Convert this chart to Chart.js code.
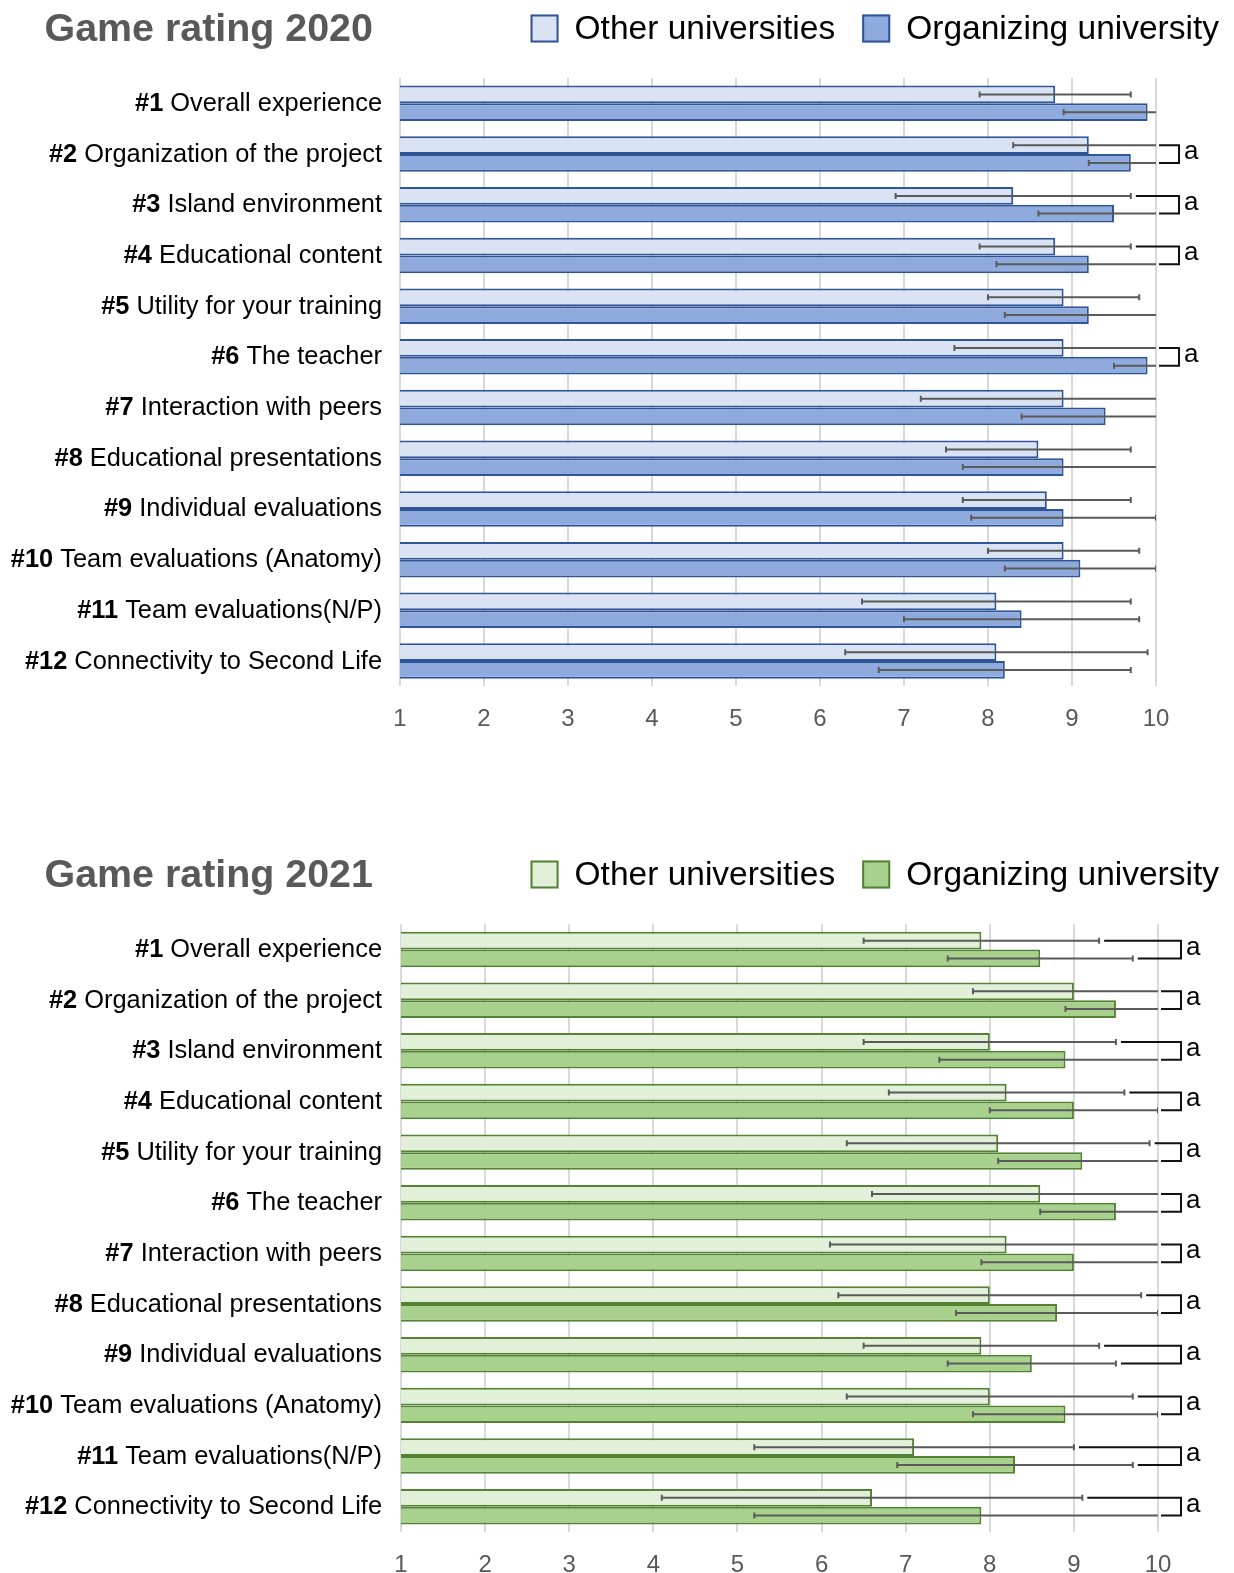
<!DOCTYPE html>
<html>
<head>
<meta charset="utf-8">
<script src="https://cdn.jsdelivr.net/npm/chart.js@4.4.1/dist/chart.umd.min.js"></script>
<style>
  html, body { margin: 0; padding: 0; background: #ffffff; width: 1234px; height: 1573px; overflow: hidden; }
  .wrap { position: absolute; left: 0; width: 1234px; }
</style>
</head>
<body>
<div class="wrap" style="top:0px;height:845px"><canvas id="c2020" width="1234" height="845"></canvas></div>
<div class="wrap" style="top:846px;height:752px"><canvas id="c2021" width="1234" height="752"></canvas></div>
<script>
// ---------------- DATA ----------------
const categoryNumbers = ['#1', '#2', '#3', '#4', '#5', '#6', '#7', '#8', '#9', '#10', '#11', '#12'];
const categoryNames = [
  'Overall experience', 'Organization of the project', 'Island environment', 'Educational content',
  'Utility for your training', 'The teacher', 'Interaction with peers', 'Educational presentations',
  'Individual evaluations', 'Team evaluations (Anatomy)', 'Team evaluations(N/P)', 'Connectivity to Second Life'
];
const xTickValues = [1, 2, 3, 4, 5, 6, 7, 8, 9, 10];
const seriesNames = ['Other universities', 'Organizing university'];
const chartTitles = ['Game rating 2020', 'Game rating 2021'];

const other2020   = [8.8, 9.2, 8.3, 8.8, 8.9, 8.9, 8.9, 8.6, 8.7, 8.9, 8.1, 8.1];
const otherSd2020 = [0.9, 0.9, 1.4, 0.9, 0.9, 1.3, 1.7, 1.1, 1.0, 0.9, 1.6, 1.8];
const org2020     = [9.9, 9.7, 9.5, 9.2, 9.2, 9.9, 9.4, 8.9, 8.9, 9.1, 8.4, 8.2];
const orgSd2020   = [1.0, 0.5, 0.9, 1.1, 1.0, 0.4, 1.0, 1.2, 1.1, 0.9, 1.4, 1.5];
const sig2020     = ['', 'a', 'a', 'a', '', 'a', '', '', '', '', '', ''];

const other2021   = [7.9, 9.0, 8.0, 8.2, 8.1, 8.6, 8.2, 8.0, 7.9, 8.0, 7.1, 6.6];
const otherSd2021 = [1.4, 1.2, 1.5, 1.4, 1.8, 2.0, 2.1, 1.8, 1.4, 1.7, 1.9, 2.5];
const org2021     = [8.6, 9.5, 8.9, 9.0, 9.1, 9.5, 9.0, 8.8, 8.5, 8.9, 8.3, 7.9];
const orgSd2021   = [1.1, 0.6, 1.5, 1.0, 1.0, 0.9, 1.1, 1.2, 1.0, 1.1, 1.4, 2.7];
const sig2021     = ['a', 'a', 'a', 'a', 'a', 'a', 'a', 'a', 'a', 'a', 'a', 'a'];

// ---------------- DRAWING ----------------
const FONT = '"Liberation Sans", Arial, Helvetica, sans-serif';

const decor = {
  id: 'decor',
  afterDatasetsDraw(chart, args, o) {
    const ctx = chart.ctx, a = chart.chartArea, xs = chart.scales.x;
    const metas = [chart.getDatasetMeta(0), chart.getDatasetMeta(1)];
    // error bars (clipped to the plot area)
    ctx.save();
    ctx.beginPath();
    ctx.rect(a.left, 0, a.right - a.left, chart.height);
    ctx.clip();
    ctx.strokeStyle = '#5A5A5A';
    ctx.lineWidth = 2;
    chart.data.datasets.forEach((ds, d) => {
      const sd = o.sd[d];
      metas[d].data.forEach((bar, i) => {
        const v = ds.data[i], y = bar.y;
        const x0 = xs.getPixelForValue(v - sd[i]);
        const x1 = xs.getPixelForValue(v + sd[i]);
        ctx.beginPath();
        ctx.moveTo(x0, y); ctx.lineTo(x1, y);
        ctx.moveTo(x0, y - 3); ctx.lineTo(x0, y + 3);
        ctx.moveTo(x1, y - 3); ctx.lineTo(x1, y + 3);
        ctx.stroke();
      });
    });
    ctx.restore();

    // significance brackets
    ctx.save();
    ctx.strokeStyle = '#111111';
    ctx.lineWidth = 2;
    ctx.fillStyle = '#000000';
    ctx.font = '26px ' + FONT;
    ctx.textAlign = 'left';
    ctx.textBaseline = 'alphabetic';
    const vx = a.right + 23;
    o.sig.forEach((s, i) => {
      if (!s) return;
      const ends = [0, 1].map(d => {
        const hi = chart.data.datasets[d].data[i] + o.sd[d][i];
        return hi >= 9.999 ? a.right + 3 : xs.getPixelForValue(hi) + 5;
      });
      const y0 = metas[0].data[i].y, y1 = metas[1].data[i].y;
      ctx.beginPath();
      ctx.moveTo(ends[0], y0); ctx.lineTo(vx, y0); ctx.lineTo(vx, y1); ctx.lineTo(ends[1], y1);
      ctx.stroke();
      ctx.fillText(s, vx + 5, (y0 + y1) / 2 + 5);
    });
    ctx.restore();
  },
  afterDraw(chart, args, o) {
    const ctx = chart.ctx, ys = chart.scales.y;
    ctx.save();
    // title
    ctx.fillStyle = '#595959';
    ctx.font = 'bold 39.4px ' + FONT;
    ctx.textAlign = 'left';
    ctx.textBaseline = 'alphabetic';
    ctx.fillText(o.title, 44.5, 41);

    // legend (right aligned)
    ctx.font = '33.5px ' + FONT;
    ctx.textBaseline = 'middle';
    let xr = 1219;
    const items = chart.data.datasets.slice().reverse();
    items.forEach(ds => {
      const w = ctx.measureText(ds.label).width;
      const tx = xr - w;
      ctx.fillStyle = '#000000';
      ctx.textAlign = 'left';
      ctx.fillText(ds.label, tx, 30);
      const bx = tx - 16 - 28;
      ctx.fillStyle = ds.backgroundColor;
      ctx.fillRect(bx, 14.5, 28, 28);
      ctx.strokeStyle = ds.borderColor;
      ctx.lineWidth = 2;
      ctx.strokeRect(bx + 1, 15.5, 26, 26);
      xr = bx - 27;
    });

    // category labels: bold number + regular text, right aligned
    const xRight = 382;
    chart.data.labels.forEach((lab, i) => {
      const y = ys.getPixelForValue(i) + 0.5;
      const sp = lab.indexOf(' ');
      const num = lab.slice(0, sp), name = lab.slice(sp + 1);
      ctx.fillStyle = '#000000';
      ctx.textAlign = 'right';
      ctx.textBaseline = 'middle';
      ctx.font = '25.4px ' + FONT;
      const wName = ctx.measureText(name).width;
      const wSp = ctx.measureText(' ').width;
      ctx.fillText(name, xRight, y);
      ctx.font = 'bold 25.4px ' + FONT;
      ctx.fillText(num, xRight - wName - wSp, y);
    });
    ctx.restore();
  }
};

function makeChart(canvasId, title, otherVals, otherSd, orgVals, orgSd, sig, colors, pad) {
  const labels = categoryNumbers.map((n, i) => n + ' ' + categoryNames[i]);
  return new Chart(document.getElementById(canvasId), {
    type: 'bar',
    data: {
      labels: labels,
      datasets: [
        {
          label: seriesNames[0], data: otherVals,
          backgroundColor: colors.light, borderColor: colors.border, borderWidth: 2,
          borderSkipped: false, barPercentage: 1.0, categoryPercentage: 0.70
        },
        {
          label: seriesNames[1], data: orgVals,
          backgroundColor: colors.dark, borderColor: colors.border, borderWidth: 2,
          borderSkipped: false, barPercentage: 1.0, categoryPercentage: 0.70
        }
      ]
    },
    options: {
      indexAxis: 'y',
      responsive: false,
      animation: false,
      events: [],
      layout: { padding: pad },
      scales: {
        x: {
          type: 'linear', min: 1, max: 10,
          afterBuildTicks: (scale) => { scale.ticks = xTickValues.map(v => ({ value: v })); },
          grid: { color: '#D9D9D9', lineWidth: 2, drawTicks: false },
          border: { display: false },
          ticks: {
            color: '#595959', padding: 21,
            font: { size: 24, family: FONT, lineHeight: 1 }
          }
        },
        y: { type: 'category', display: false, grid: { display: false } }
      },
      plugins: {
        legend: { display: false },
        tooltip: { enabled: false },
        title: { display: false },
        decor: { title: title, sd: [otherSd, orgSd], sig: sig }
      }
    },
    plugins: [decor]
  });
}

makeChart('c2020', chartTitles[0], other2020, otherSd2020, org2020, orgSd2020, sig2020,
  { light: '#DAE3F3', dark: '#8FAADC', border: '#2F5597' },
  { top: 78, left: 400, right: 78, bottom: 92.6 });

makeChart('c2021', chartTitles[1], other2021, otherSd2021, org2021, orgSd2021, sig2021,
  { light: '#E2F0D9', dark: '#A9D18E', border: '#548235' },
  { top: 78.2, left: 401, right: 76, bottom: 0 });
</script>
</body>
</html>
